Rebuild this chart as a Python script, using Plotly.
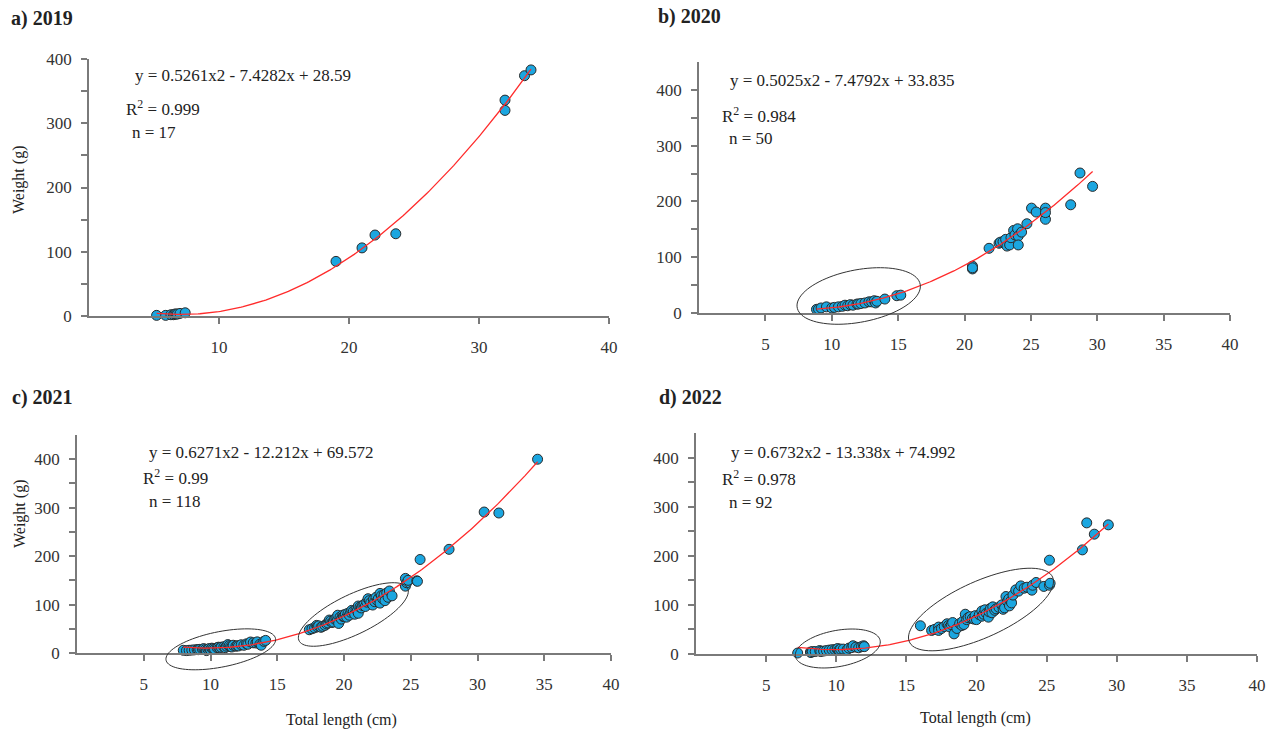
import numpy as np
import plotly.graph_objects as go

# ---------------- data ----------------
# a) 2019
len_2019 = [5.2, 5.9, 6.3, 6.5, 6.6, 6.7, 6.8, 7.0, 7.4, 19.0, 21.0, 22.0, 23.6, 32.0, 32.0, 33.5, 34.0]
wt_2019 = [1, 1, 2, 2, 3, 3, 3, 4, 5, 85, 106, 126, 128, 336, 320, 374, 383]

# b) 2020
len_2020 = [8.85, 9.0, 9.2, 9.6, 10.0, 10.2, 10.5, 10.8, 11.0, 11.2, 11.4, 11.6, 11.9, 12.0, 12.2, 12.5,
            12.8, 13.0, 13.2, 13.3, 13.4, 14.0, 14.9, 15.2,
            20.6, 20.6, 20.6, 21.85, 22.6, 22.7, 22.9, 23.1, 23.2, 23.4, 23.5, 23.7, 23.8, 24.0, 24.05,
            24.05, 24.3, 24.7, 25.05, 25.4, 26.1, 26.1, 26.1, 28.0, 28.7, 29.65]
wt_2020 = [6.5, 7, 9, 11, 9, 10, 11, 12, 14, 13, 15, 14, 16, 16, 17, 18,
           20, 20, 22, 18, 21, 25, 31, 32,
           84, 79, 81, 116, 125, 127, 128, 132, 120, 122, 135, 148, 140, 151, 138,
           122, 145, 160, 188, 181, 188, 168, 180, 194, 251, 227]

# c) 2021
len_2021 = [7.96, 8.2, 8.4, 8.6, 8.8, 9.0, 9.1, 9.2, 9.4, 9.5, 9.6, 9.7, 9.8, 9.9, 10.0, 10.1, 10.2, 10.3,
            10.5, 10.6, 10.7, 10.8, 11.0, 11.1, 11.2, 11.3, 11.4, 11.5, 11.6, 11.7, 11.9, 12.0, 12.1, 12.3,
            12.5, 12.7, 12.8, 13.0, 13.2, 13.4, 13.5, 13.7, 13.8, 14.0, 14.13,
            17.4, 17.6, 17.8, 17.95, 18.0, 18.1, 18.28, 18.4, 18.58, 18.7, 18.8, 18.9, 19.0, 19.1, 19.2,
            19.3, 19.4, 19.5, 19.53, 19.6, 19.7, 19.8, 19.9, 19.95, 20.0, 20.1, 20.2, 20.3, 20.4, 20.5,
            20.58, 20.7, 20.8, 20.9, 21.0, 21.07, 21.07, 21.2, 21.3, 21.4, 21.5, 21.6, 21.7, 21.8, 21.9,
            22.0, 22.15, 22.2, 22.3, 22.4, 22.5, 22.57, 22.7, 22.7, 22.8, 22.9, 23.0, 23.07, 23.2, 23.3,
            23.4, 23.6,
            24.6, 24.6, 24.7, 24.8, 25.45, 25.5, 25.7, 27.87, 30.5, 31.6, 34.5]
wt_2021 = [5.6, 5, 5.6, 6, 6.5, 7, 6.9, 7.5, 8, 9, 7, 5, 8, 9, 7, 10, 9, 8,
           11, 12, 10.4, 12, 13, 11, 14, 17.3, 15, 13, 12.4, 16, 14, 15, 14.5, 17,
           15.9, 19, 18, 22.7, 21, 20.7, 23, 18, 16, 24, 26,
           48, 50, 52, 57, 54, 56, 53, 55, 57, 60, 62, 68, 66, 63, 64,
           70, 72, 68, 78, 61, 74, 70, 78, 75, 76, 80, 74, 82, 78, 84,
           88, 86, 80, 90, 88, 82, 97, 95, 93, 98, 100, 96, 105, 112, 108,
           104, 99, 110, 106, 115, 108, 112, 123, 103, 118, 112, 120, 108, 124, 115,
           128, 118,
           154, 138, 145, 150, 149, 148, 193, 214, 291, 289, 400]

# d) 2022
len_2022 = [7.25, 8.16, 8.2, 8.3, 8.5, 8.82, 8.9, 9.1, 9.3, 9.5, 9.7, 9.9, 10.06, 10.1, 10.2, 10.3,
            10.5, 10.77, 10.9, 11.1, 11.2, 11.4, 11.6, 11.8, 11.95, 12.0,
            16.0, 16.8, 17.0, 17.3, 17.3, 17.5, 17.7, 17.9, 18.0, 18.1, 18.2, 18.3, 18.4, 18.6, 18.8,
            18.96, 19.0, 19.1, 19.2, 19.3, 19.4, 19.55, 19.7, 19.84, 19.9, 20.0, 20.2, 20.38, 20.4, 20.5,
            20.6, 20.7, 20.85, 20.9, 21.0, 21.1, 21.16, 21.3, 21.4, 21.6, 21.8, 21.9, 22.0, 22.1, 22.2,
            22.3, 22.35, 22.45, 22.5, 22.6, 22.8, 23.0, 23.16, 23.4, 23.6, 23.95, 24.0, 24.25, 24.8,
            25.2, 25.25,
            25.2, 27.55, 27.86, 28.4, 29.4]
wt_2022 = [2, 4, 3, 5, 5, 7, 5, 6, 7, 8, 8.7, 9, 10, 11, 8, 10,
           10, 8.7, 12, 13, 16.8, 14, 12.7, 15, 16.8, 15,
           57.5, 48, 50, 54.8, 48, 52, 56, 61.5, 58, 55, 60, 64, 41, 52, 62,
           58, 66, 60, 81, 70, 74, 76, 72, 71, 78, 70, 80, 87.5, 77, 81,
           90, 83, 75, 86, 93, 84, 96, 89, 92, 95, 100, 91, 94, 117, 107,
           112, 98, 108, 104, 120, 130.6, 128, 138.7, 134, 136, 130, 140, 145.6, 137.6,
           140, 144,
           191, 212, 267, 244, 263]

panel_titles = ["a) 2019", "b) 2020", "c) 2021", "d) 2022"]
fit_coefs = [(0.5261, -7.4282, 28.59), (0.5025, -7.4792, 33.835),
             (0.6271, -12.212, 69.572), (0.6732, -13.338, 74.992)]
equations = ["y = 0.5261x2 - 7.4282x + 28.59", "y = 0.5025x2 - 7.4792x + 33.835",
             "y = 0.6271x2 - 12.212x + 69.572", "y = 0.6732x2 - 13.338x + 74.992"]
r2_labels = ["0.999", "0.984", "0.99", "0.978"]
n_labels = ["17", "50", "118", "92"]
x_ticks_a = [10, 20, 30, 40]
x_ticks_bcd = [5, 10, 15, 20, 25, 30, 35, 40]
y_ticks = [0, 100, 200, 300, 400]
y_minor_ticks = [50, 150, 250, 350]

series = [(len_2019, wt_2019), (len_2020, wt_2020), (len_2021, wt_2021), (len_2022, wt_2022)]

# ---------------- layout geometry (pixels) ----------------
W, H = 1276, 734
geo = [
    dict(L=89, R=609, T=59, B=316, ymax=400, xt=x_ticks_a,
         title=(9, 19), eq=(133, 75), r2=(124, 108), n=(130, 132)),
    dict(L=699, R=1230, T=62, B=313, ymax=450, xt=x_ticks_bcd,
         title=(656, 17), eq=(728, 80), r2=(720, 115), n=(727, 139)),
    dict(L=77, R=611, T=435, B=653, ymax=450, xt=x_ticks_bcd,
         title=(10, 397), eq=(147, 452), r2=(141, 477), n=(147, 501)),
    dict(L=696, R=1257, T=433, B=654, ymax=450, xt=x_ticks_bcd,
         title=(657, 397), eq=(729, 452), r2=(720, 478), n=(727, 503)),
]
# highlight ellipses: panel, centre (data units), semi-axes (px), tilt (deg)
ellipses = [
    (1, 12.03, 30.5, 62.6, 26.2, 10.8),
    (2, 10.77, 7.6, 55.8, 17.7, 11.2),
    (2, 20.7, 79.5, 60.3, 19.9, 25.8),
    (3, 10.11, 11.2, 43.1, 18.1, 10.6),
    (3, 20.32, 90.6, 78.6, 28.0, 24.4),
]

FONT = "Liberation Serif"
AXIS_COL = "#7a7a7a"

fig = go.Figure()
annotations = []
shapes = []

for i, ((xs, ys), g) in enumerate(zip(series, geo)):
    k = "" if i == 0 else str(i + 1)
    xa, ya = "x" + k, "y" + k
    fig.add_trace(go.Scatter(
        x=xs, y=ys, mode="markers", xaxis=xa, yaxis=ya, showlegend=False,
        marker=dict(size=10, color="#1ba6e0", line=dict(color="#2a2a2a", width=1)),
        cliponaxis=False))
    a2, a1, a0 = fit_coefs[i]
    xf = np.linspace(min(xs), max(xs), 200)
    fig.add_trace(go.Scatter(
        x=xf, y=a2 * xf ** 2 + a1 * xf + a0, mode="lines", xaxis=xa, yaxis=ya,
        showlegend=False, line=dict(color="#ff2b2b", width=1.3)))

    xdom = [g["L"] / W, g["R"] / W]
    ydom = [1 - g["B"] / H, 1 - g["T"] / H]
    fig.layout["xaxis" + k] = dict(
        domain=xdom, anchor=ya, range=[0, 40], tickvals=g["xt"],
        showline=True, linecolor=AXIS_COL, linewidth=1.5, ticks="outside",
        ticklen=6, tickwidth=1.5, tickcolor=AXIS_COL, showgrid=False, zeroline=False,
        tickfont=dict(family=FONT, size=17, color="#333"), ticklabelstandoff=9)
    fig.layout["yaxis" + k] = dict(
        domain=ydom, anchor=xa, range=[0, g["ymax"]], tickvals=y_ticks,
        minor=dict(tickvals=y_minor_ticks, ticks="outside", ticklen=6, tickwidth=1.5,
                   tickcolor=AXIS_COL, showgrid=False),
        showline=True, linecolor=AXIS_COL, linewidth=1.5, ticks="outside",
        ticklen=6, tickwidth=1.5, tickcolor=AXIS_COL, showgrid=False, zeroline=False,
        tickfont=dict(family=FONT, size=17, color="#333"), ticklabelstandoff=6)

    def ann(text, pos, size=17, bold=False):
        annotations.append(dict(
            text=("<b>%s</b>" % text) if bold else text, x=pos[0] / W, y=1 - pos[1] / H,
            xref="paper", yref="paper", xanchor="left", yanchor="middle", showarrow=False,
            font=dict(family=FONT, size=size, color="#222")))

    ann(panel_titles[i], g["title"], size=20, bold=True)
    ann(equations[i], g["eq"])
    ann("R<sup>2</sup> = " + r2_labels[i], g["r2"])
    ann("n = " + n_labels[i], g["n"])

# ellipses drawn in paper coordinates
for (p, cx, cy, a, b, ang) in ellipses:
    g = geo[p]
    sx = (g["R"] - g["L"]) / 40.0
    sy = (g["B"] - g["T"]) / g["ymax"]
    pcx = g["L"] + cx * sx
    pcy = g["B"] - cy * sy
    th = np.deg2rad(ang)
    t = np.linspace(0, 2 * np.pi, 90)
    dx = a * np.cos(t) * np.cos(th) - b * np.sin(t) * np.sin(th)
    dy = a * np.cos(t) * np.sin(th) + b * np.sin(t) * np.cos(th)
    X = (pcx + dx) / W
    Y = 1 - (pcy - dy) / H
    path = "M " + " L ".join("%.5f,%.5f" % (u, v) for u, v in zip(X, Y)) + " Z"
    shapes.append(dict(type="path", path=path, xref="paper", yref="paper",
                       line=dict(color="#333", width=1)))

# axis titles
for txt, (x, y), rot in [("Weight (g)", (19, 180), -90), ("Weight (g)", (20, 514), -90),
                         ("Total length (cm)", (341, 720), 0), ("Total length (cm)", (975, 718), 0)]:
    annotations.append(dict(text=txt, x=x / W, y=1 - y / H, xref="paper", yref="paper",
                            xanchor="center", yanchor="middle", showarrow=False, textangle=rot,
                            font=dict(family=FONT, size=16, color="#222")))

fig.update_layout(width=W, height=H, margin=dict(l=0, r=0, t=0, b=0, autoexpand=False),
                  paper_bgcolor="white", plot_bgcolor="white",
                  annotations=annotations, shapes=shapes)

fig.write_html("out.html", config={"displayModeBar": False},
               post_script="document.body.style.margin='0';")
